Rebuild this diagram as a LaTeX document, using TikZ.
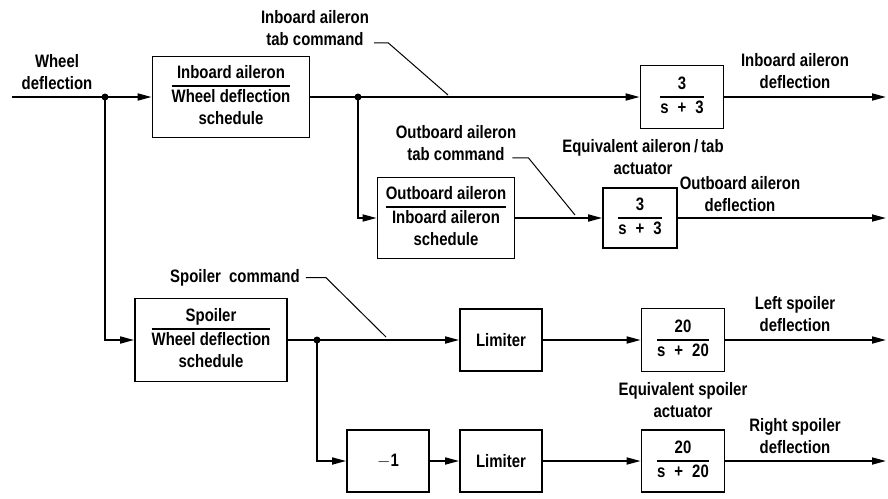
\documentclass[tikz,border=0pt]{standalone}
\usepackage{fontspec}
\setmainfont{Liberation Sans}[FakeStretch=0.83]
\usetikzlibrary{arrows.meta}
\setlength{\arrayrulewidth}{1.5pt}

\begin{document}
\begin{tikzpicture}[x=1pt, y=-1pt, font=\fontsize{18}{22}\selectfont\bfseries]
                            \tikzset{block/.style={draw, shape=rectangle, line width=1.8pt, inner sep=0pt},
                                lbl/.style={align=center, inner sep=0pt},
                                sig/.style={line width=1.7pt, -{Triangle[length=14pt,width=7pt]}},
                                leader/.style={line width=1pt}}
                            \useasboundingbox (0,0) rectangle (888,498);

                            % schedules
                            \node[block, minimum width=157pt, minimum height=81pt] (ia) at (231, 97){\begin{tabular}{@{}c@{}}Inboard aileron\\\hline Wheel deflection\\schedule\end{tabular}};
                            \node[block, minimum width=137pt, minimum height=81pt] (oa) at (446, 218){\begin{tabular}{@{}c@{}}Outboard aileron\\\hline Inboard aileron\\schedule\end{tabular}};
                            \node[block, minimum width=152pt, minimum height=83pt] (sp) at (211, 340){\begin{tabular}{@{}c@{}}Spoiler\\\hline Wheel deflection\\schedule\end{tabular}};
                            % actuators and limiters
                            \node[block, minimum width=83pt, minimum height=63pt] (act1) at (682, 97){\begin{tabular}{@{}c@{}}3\\\hline s\enspace+\enspace3\end{tabular}};
                            \node[block, minimum width=74pt, minimum height=60pt] (act2) at (640, 218){\begin{tabular}{@{}c@{}}3\\\hline s\enspace+\enspace3\end{tabular}};
                            \node[block, minimum width=82pt, minimum height=62pt] (lim1) at (501, 340){Limiter};
                            \node[block, minimum width=83pt, minimum height=63pt] (act3) at (683, 340){\begin{tabular}{@{}c@{}}20\\\hline s\enspace+\enspace20\end{tabular}};
                            \node[block, minimum width=82pt, minimum height=62pt] (neg) at (388, 461){$-$1};
                            \node[block, minimum width=82pt, minimum height=62pt] (lim2) at (501, 461){Limiter};
                            \node[block, minimum width=83pt, minimum height=62pt] (act4) at (683, 461){\begin{tabular}{@{}c@{}}20\\\hline s\enspace+\enspace20\end{tabular}};

                            % labels
                            \node[lbl] (wd) at (57, 72){Wheel\\deflection};
                            \node[lbl] (cmd1) at (315, 28){Inboard aileron\\tab command};
                            \node[lbl] (cmd2) at (456, 143){Outboard aileron\\tab command};
                            \node[lbl] (cmd3) at (235, 278){Spoiler\ \ command};
                            \node[lbl] (ibd) at (795, 71){Inboard aileron\\deflection};
                            \node[lbl] (obd) at (740, 194){Outboard aileron\\deflection};
                            \node[lbl] (lsd) at (795, 314){Left spoiler\\deflection};
                            \node[lbl] (rsd) at (795, 436){Right spoiler\\deflection};
                            \node[lbl] (eqa) at (643, 157){Equivalent aileron\,/\,tab\\actuator};
                            \node[lbl] (eqs) at (683, 400){Equivalent spoiler\\actuator};

                            \coordinate (in) at (12, 97);
                            \coordinate (j1) at (105, 97);
                            \coordinate (j2) at (358, 97);
                            \coordinate (j3) at (317, 340);
                            \coordinate (out1) at (886, 97);
                            \coordinate (out2) at (886, 218);
                            \coordinate (out3) at (886, 340);
                            \coordinate (out4) at (886, 461);
                            \coordinate (k1) at (448, 95);
                            \coordinate (k2) at (575, 215);
                            \coordinate (k3) at (386, 337);

                            \draw[sig] (in) -- (ia);
                            \draw[sig] (j1) |- (sp);
                            \draw[sig] (ia) -- (act1);
                            \draw[sig] (j2) |- (oa);
                            \draw[sig] (oa) -- (act2);
                            \draw[sig] (act1) -- (out1);
                            \draw[sig] (act2) -- (out2);
                            \draw[sig] (sp) -- (lim1);
                            \draw[sig] (lim1) -- (act3);
                            \draw[sig] (act3) -- (out3);
                            \draw[sig] (j3) |- (neg);
                            \draw[sig] (neg) -- (lim2);
                            \draw[sig] (lim2) -- (act4);
                            \draw[sig] (act4) -- (out4);
                            \foreach \j in {j1, j2, j3}
                                \fill (\j) circle[radius=3.5pt];

                            \draw[leader] ([shift={(5pt,3pt)}]cmd1.south east) -- ++(14, 0) -- (k1);
                            \draw[leader] ([shift={(-4pt,3pt)}]cmd2.south east) -- ++(16, 0) -- (k2);
                            \draw[leader] ([shift={(6pt,5pt)}]cmd3.base east) -- ++(20, 0) -- (k3);
                        \end{tikzpicture}
\end{document}
